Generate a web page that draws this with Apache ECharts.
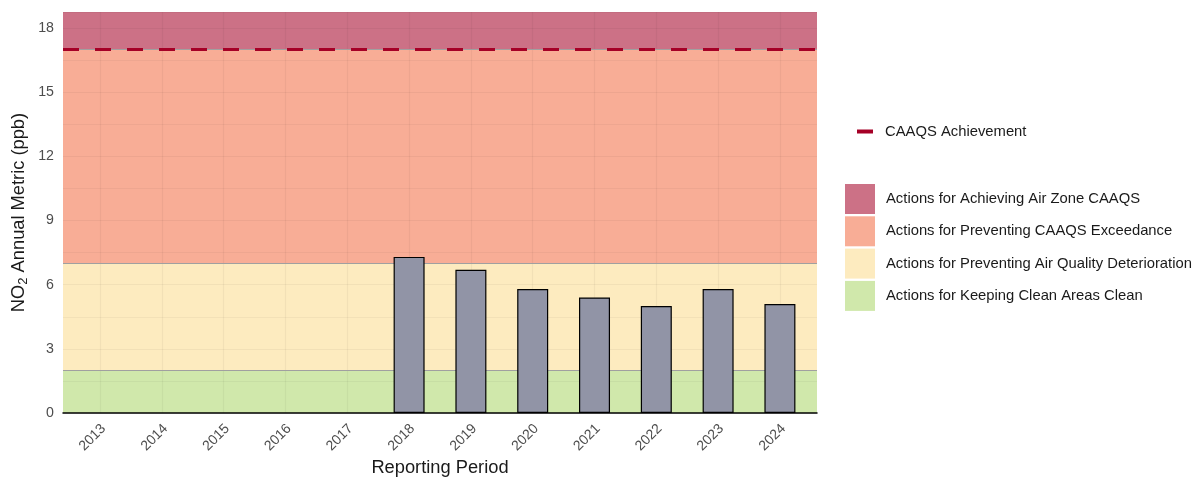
<!DOCTYPE html>
<html><head><meta charset="utf-8">
<script src="https://cdn.jsdelivr.net/npm/echarts@6/dist/echarts.min.js"></script>
<style>html,body{margin:0;padding:0;background:#fff}#c{width:1203px;height:480px}</style>
</head><body><div id="c"></div>
<script>
var categories = ['2013','2014','2015','2016','2017','2018','2019','2020','2021','2022','2023','2024'];
var values = [null, null, null, null, null, 7.3, 6.7, 5.8, 5.4, 5.0, 5.8, 5.1];
var yTicks = [0, 3, 6, 9, 12, 15, 18];
var yMax = 18.75;
var caaqs = 17;
var bandNames = ['Actions for Achieving Air Zone CAAQS','Actions for Preventing CAAQS Exceedance','Actions for Preventing Air Quality Deterioration','Actions for Keeping Clean Areas Clean'];
var bandLow = [17, 7, 2, 0];
var bandHigh = [yMax, 17, 7, 2];
var bandColors = ['#CC7186', '#F8AD96', '#FDEBBF', '#D0E8AB'];

var chart = echarts.init(document.getElementById('c'));
var idx = categories.map(function(c,i){return i;});
var series = [];
bandNames.forEach(function(n, k){
  series.push({
    name: n, type: 'line', data: [], z: 1,
    itemStyle: {color: bandColors[k]},
    lineStyle: {color: bandColors[k]},
    markArea: {silent: true, itemStyle: {color: bandColors[k], opacity: 1},
      data: [[{yAxis: bandLow[k]}, {yAxis: bandHigh[k]}]]},
    markLine: {silent: true, symbol: 'none', label: {show: false},
      lineStyle: {color: '#A0A0A0', width: 1.2, type: 'solid'},
      data: bandLow[k] > 0 ? [{yAxis: bandLow[k]}] : []}
  });
});
series.push({
  name: 'CAAQS Achievement', type: 'line', data: [], z: 6,
  itemStyle: {color: '#A50026'}, lineStyle: {color: '#A50026'},
  markLine: {silent: true, symbol: 'none', label: {show: false},
    lineStyle: {color: '#A50026', width: 3, type: [16, 16]},
    data: [{yAxis: caaqs}]}
});
series.push({
  name: 'NO2', type: 'bar', z: 5, barWidth: 31,
  data: idx.map(function(i){return [i, values[i]];}),
  itemStyle: {color: '#9194A6', borderColor: '#000', borderWidth: 1.2}
});

var FONT = 'Liberation Sans';
chart.setOption({
  animation: false,
  grid: {left: 63, right: 386, top: 12, bottom: 67, containLabel: false, outerBoundsMode: 'none'},
  xAxis: {
    type: 'value', min: -0.6, max: 11.6, z: 3,
    name: 'Reporting Period', nameLocation: 'middle', nameGap: 46, nameMoveOverlap: false,
    nameTextStyle: {fontSize: 18.3, color: '#1a1a1a', fontFamily: FONT},
    axisLine: {show: true, lineStyle: {color: '#000', width: 1.5}},
    axisTick: {show: false, customValues: idx},
    axisLabel: {customValues: idx, rotate: 45, margin: 17, fontSize: 14, color: '#4D4D4D', fontFamily: FONT,
      padding: [0, -5, 0, 0],
      formatter: function(v){return categories[Math.round(v)];}},
    splitLine: {show: true, lineStyle: {color: 'rgba(0,0,0,0.045)', width: 1.2}}
  },
  yAxis: {
    type: 'value', min: 0, max: yMax, interval: 3, z: 3,
    name: '{a|NO}{s|2}{a| Annual Metric (ppb)}', nameLocation: 'middle', nameGap: 33, nameMoveOverlap: false,
    nameTextStyle: {rich: {a: {fontSize: 18.3, color: '#1a1a1a', fontFamily: FONT}, s: {fontSize: 13, color: '#1a1a1a', fontFamily: FONT, verticalAlign: 'bottom', padding: [9,0,0,0]}}},
    axisLine: {show: false}, axisTick: {show: false},
    axisLabel: {fontSize: 14.2, color: '#4D4D4D', margin: 9, fontFamily: FONT,
      customValues: yTicks},
    splitLine: {show: true, lineStyle: {color: 'rgba(0,0,0,0.045)', width: 1.2}},
    minorTick: {show: false, splitNumber: 2},
    minorSplitLine: {show: true, lineStyle: {color: 'rgba(0,0,0,0.04)', width: 1}}
  },
  legend: [
    {orient: 'vertical', left: 857, top: 124, padding: 0, itemWidth: 16, itemHeight: 4,
     data: [{name: 'CAAQS Achievement', icon: 'rect'}],
     textStyle: {fontSize: 14.8, color: '#1a1a1a', fontFamily: FONT, padding: [0,0,0,7]}},
    {orient: 'vertical', left: 845, top: 184, padding: 0, itemWidth: 30, itemHeight: 30, itemGap: 2.3,
     data: bandNames.map(function(n){return {name: n, icon: 'rect'};}),
     textStyle: {fontSize: 14.8, color: '#1a1a1a', fontFamily: FONT, padding: [0,0,0,6]}}
  ],
  series: series
});
</script></body></html>
